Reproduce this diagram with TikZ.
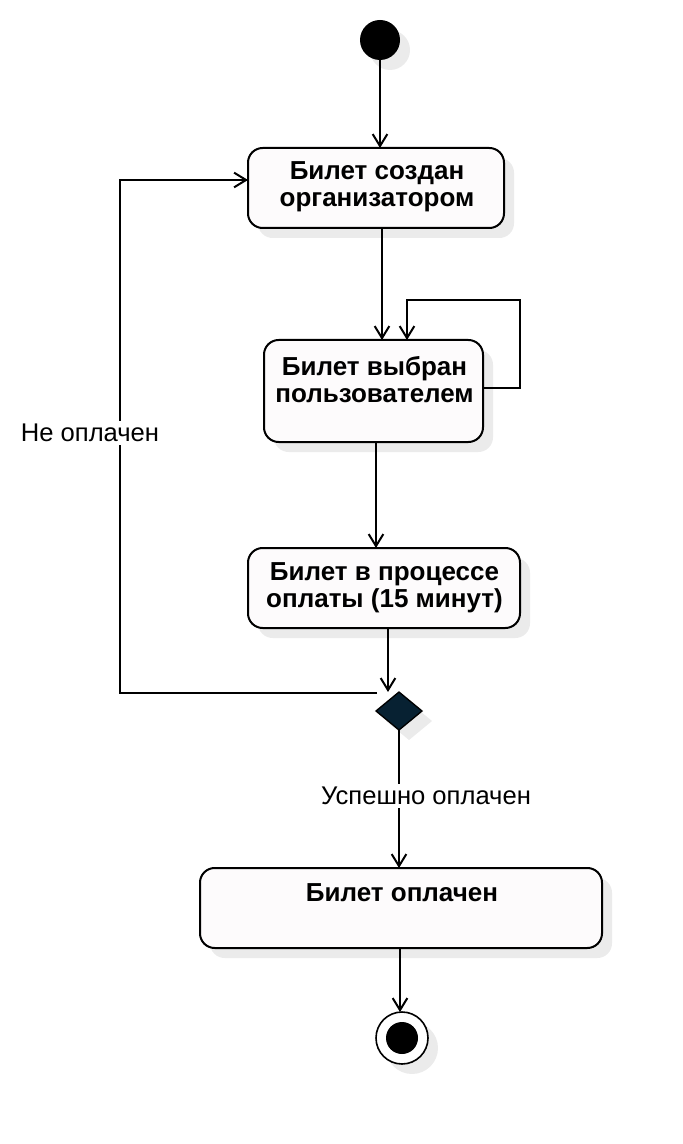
\documentclass[tikz,border=0pt]{standalone}
\usepackage{fontspec}
\setmainfont{Liberation Sans}
\usetikzlibrary{arrows.meta,shapes.geometric,shadows}
\definecolor{boxfill}{RGB}{253,251,252}
\definecolor{shadowgrey}{RGB}{235,235,235}
\definecolor{navy}{RGB}{7,33,50}
\tikzset{
  every node/.style={inner sep=0pt,outer sep=0pt},
  shad/.style={drop shadow={shadow xshift=7.5pt,shadow yshift=-7.5pt,fill=shadowgrey,opacity=1}},
  statebox/.style={draw=black,line width=1.5pt,rounded corners=11pt,fill=boxfill,shad},
  statetext/.style={font=\fontsize{19.5}{20.25}\selectfont\bfseries,align=center},
  guardtext/.style={font=\fontsize{19.2}{20}\selectfont,fill=white,inner xsep=1pt,inner ysep=2pt},
  arr/.style={draw=black,line width=1.5pt,-{Straight Barb[length=9pt,width=11pt,line width=1.5pt]}},
  plain/.style={draw=black,line width=1.5pt},
}
\begin{document}
\begin{tikzpicture}[x=0.75pt,y=-0.75pt]
\useasboundingbox (0,0) rectangle (682,1144);
% initial and final
\node[circle,fill=black,minimum size=30pt,shad] (init) at (380,40) {};
\node[statebox,minimum width=192pt,minimum height=60pt] (b1) at (376,188) {};
\node[statetext] (b1t) at (377,187) {Билет создан\\организатором};
\node[statebox,minimum width=164.25pt,minimum height=76.5pt] (b2) at (373.5,391) {};
\node[statetext] (b2t) at (374.5,380) {Билет выбран\\пользователем};
\node[statebox,minimum width=204pt,minimum height=60pt] (b3) at (384,588) {};
\node[statetext] (b3t) at (384.5,588) {Билет в процессе\\оплаты (15 минут)};
\node[diamond,draw=black,line width=1pt,fill=navy,minimum width=34.5pt,minimum height=28.5pt,aspect=1.21,shad] (dec) at (399,711) {};
\node[statebox,minimum width=301.5pt,minimum height=60pt] (b4) at (401,908) {};
\node[statetext] (b4t) at (402,893) {Билет оплачен};
\node[circle,draw=black,line width=1.2pt,fill=white,minimum size=39pt,shad] (fin) at (402,1038) {};
\node[circle,fill=black,minimum size=24pt] (fincore) at (fin.center) {};
% connectors
\draw[arr] (init.south) -- (380,0 |- b1.north);
\draw[arr] (382,0 |- b1.south) -- (382,0 |- b2.north);
\coordinate (loopa) at (520,300);
\coordinate (loopb) at (407,300);
\draw[arr] (b2.east |- 0,388) -| (loopa) -- (loopb) -- (407,0 |- b2.north);
\draw[arr] (376,0 |- b2.south) -- (376,0 |- b3.north);
\coordinate (dectop) at (388,692);
\draw[arr] (388,0 |- b3.south) -- (dectop);
\coordinate (nstart) at (377,693);
\coordinate (ncorner) at (120,693);
\draw[arr] (nstart) -- (ncorner) -- (120,180) -- (b1.west |- 0,180);
\node[guardtext] (g1) at (90,433) {Не оплачен};
\draw[arr] (dec.south) -- (399,0 |- b4.north);
\node[guardtext] (g2) at (426,796) {Успешно оплачен};
\draw[arr] (400,0 |- b4.south) -- (400,0 |- fin.north);
\end{tikzpicture}
\end{document}
